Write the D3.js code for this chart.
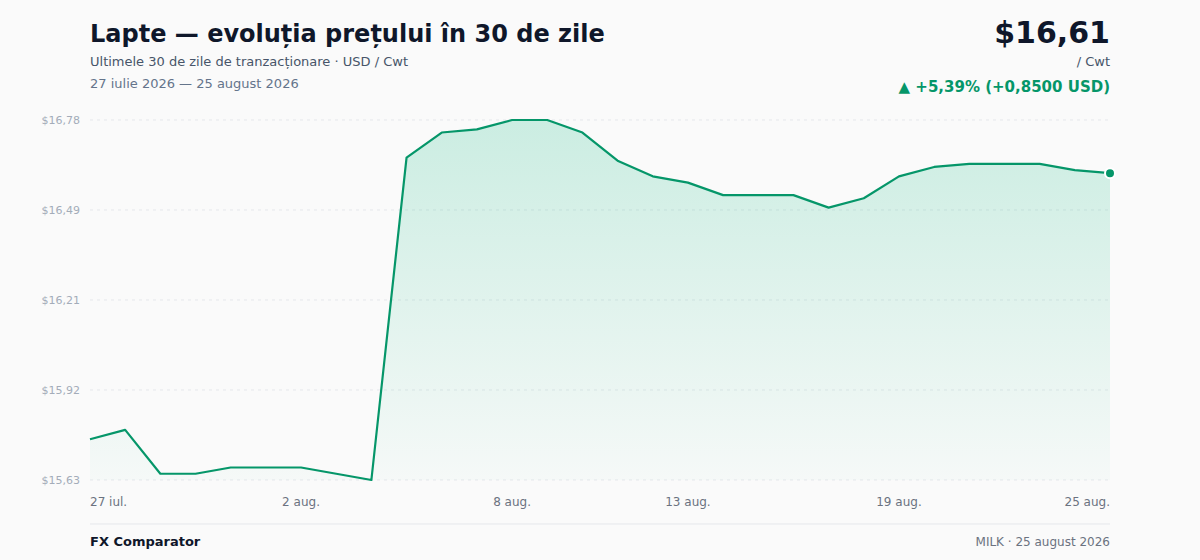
<!DOCTYPE html>
<html>
<head>
<meta charset="utf-8">
<script src="https://cdn.jsdelivr.net/npm/d3@7"></script>
<style>
  body { margin: 0; background: #fafafa; font-family: "DejaVu Sans", sans-serif; }
  svg { display: block; }
</style>
</head>
<body>
<div id="chart"></div>
<script>
// data
var dates = ["2026-07-27","2026-07-28","2026-07-29","2026-07-30","2026-07-31","2026-08-01","2026-08-02","2026-08-03","2026-08-04","2026-08-05",
             "2026-08-06","2026-08-07","2026-08-08","2026-08-09","2026-08-10","2026-08-11","2026-08-12","2026-08-13","2026-08-14","2026-08-15",
             "2026-08-16","2026-08-17","2026-08-18","2026-08-19","2026-08-20","2026-08-21","2026-08-22","2026-08-23","2026-08-24","2026-08-25"];
var prices = [15.76, 15.79, 15.65, 15.65, 15.67, 15.67, 15.67, 15.65, 15.63, 16.66,
              16.74, 16.75, 16.78, 16.78, 16.74, 16.65, 16.60, 16.58, 16.54, 16.54,
              16.54, 16.50, 16.53, 16.60, 16.63, 16.64, 16.64, 16.64, 16.62, 16.61];
var tickDates = ["2026-07-27","2026-08-02","2026-08-08","2026-08-13","2026-08-19","2026-08-25"];
var tickLabels = ["27 iul.","2 aug.","8 aug.","13 aug.","19 aug.","25 aug."];

var width = 1200, height = 560;
var plotLeft = 90, plotRight = 1110, plotTop = 120, plotBottom = 480;

var parse = d3.timeParse("%Y-%m-%d");
var data = dates.map(function(d, i) { return {date: parse(d), value: prices[i]}; });

var svg = d3.select("#chart").append("svg")
    .attr("width", width)
    .attr("height", height);

var x = d3.scaleTime()
    .domain(d3.extent(data, function(d) { return d.date; }))
    .range([plotLeft, plotRight]);
var yMin = d3.min(prices), yMax = d3.max(prices);
var y = d3.scaleLinear()
    .domain([yMin, yMax])
    .range([plotBottom, plotTop]);

var fmt = function(v) { return "$" + v.toFixed(2).replace(".", ","); };

//gradient for the area
var grad = svg.append("defs").append("linearGradient")
    .attr("id", "fillGrad")
    .attr("x1", 0).attr("y1", 0).attr("x2", 0).attr("y2", 1);
grad.append("stop").attr("offset", "0%").attr("stop-color", "#10b981").attr("stop-opacity", 0.2);
grad.append("stop").attr("offset", "100%").attr("stop-color", "#10b981").attr("stop-opacity", 0.02);

//grid + y labels
var yTicks = d3.range(5).map(function(i) { return yMin + i * (yMax - yMin) / 4; });
svg.append("g").selectAll("line")
  .data(yTicks)
  .enter().append("line")
    .attr("x1", plotLeft).attr("x2", plotRight)
    .attr("y1", function(d) { return y(d); })
    .attr("y2", function(d) { return y(d); })
    .attr("stroke", "#e5e7eb")
    .attr("stroke-dasharray", "3,4");
svg.append("g").selectAll("text")
  .data(yTicks)
  .enter().append("text")
    .attr("x", 80)
    .attr("y", function(d) { return y(d) + 4; })
    .attr("text-anchor", "end")
    .style("font-size", "11px")
    .style("fill", "#a3acb9")
    .text(fmt);

//area + line
svg.append("path")
  .datum(data)
  .attr("fill", "url(#fillGrad)")
  .attr("d", d3.area()
      .x(function(d) { return x(d.date); })
      .y0(plotBottom)
      .y1(function(d) { return y(d.value); }));
svg.append("path")
  .datum(data)
  .attr("fill", "none")
  .attr("stroke", "#059669")
  .attr("stroke-width", 2.2)
  .attr("stroke-linejoin", "round")
  .attr("d", d3.line()
      .x(function(d) { return x(d.date); })
      .y(function(d) { return y(d.value); }));

var last = data[data.length - 1];
svg.append("circle")
  .attr("cx", x(last.date))
  .attr("cy", y(last.value))
  .attr("r", 5)
  .attr("fill", "#059669")
  .attr("stroke", "#ffffff")
  .attr("stroke-width", 2);

//x labels
svg.append("g").selectAll("text")
  .data(tickDates)
  .enter().append("text")
    .attr("x", function(d) { return x(parse(d)); })
    .attr("y", 506)
    .attr("text-anchor", function(d, i) { return i == 0 ? "start" : (i == tickDates.length - 1 ? "end" : "middle"); })
    .style("font-size", "12px")
    .style("fill", "#6b7280")
    .text(function(d, i) { return tickLabels[i]; });

//header
svg.append("text")
  .attr("x", 90).attr("y", 42)
  .style("font-size", "24px")
  .style("font-weight", "bold")
  .style("fill", "#0f172a")
  .text("Lapte — evoluția prețului în 30 de zile");
svg.append("text")
  .attr("x", 90).attr("y", 66)
  .style("font-size", "13px")
  .style("fill", "#475569")
  .text("Ultimele 30 de zile de tranzacționare · USD / Cwt");
svg.append("text")
  .attr("x", 90).attr("y", 88)
  .style("font-size", "13px")
  .style("fill", "#64748b")
  .text("27 iulie 2026 — 25 august 2026");

var first = data[0];
var diff = last.value - first.value;
var pct = diff / first.value * 100;
svg.append("text")
  .attr("x", 1110).attr("y", 43)
  .attr("text-anchor", "end")
  .style("font-size", "30px")
  .style("font-weight", "bold")
  .style("fill", "#0f172a")
  .text(fmt(last.value));
svg.append("text")
  .attr("x", 1110).attr("y", 66)
  .attr("text-anchor", "end")
  .style("font-size", "13px")
  .style("fill", "#475569")
  .text("/ Cwt");
svg.append("text")
  .attr("x", 1110).attr("y", 92)
  .attr("text-anchor", "end")
  .style("font-size", "15px")
  .style("font-weight", "bold")
  .style("fill", "#059669")
  .text("▲ +" + pct.toFixed(2).replace(".", ",") + "% (+" + diff.toFixed(4).replace(".", ",") + " USD)");

//footer
svg.append("line")
  .attr("x1", 90).attr("x2", 1110)
  .attr("y1", 524).attr("y2", 524)
  .attr("stroke", "#e5e7eb");
svg.append("text")
  .attr("x", 90).attr("y", 546)
  .style("font-size", "13px")
  .style("font-weight", "bold")
  .style("fill", "#0f172a")
  .text("FX Comparator");
svg.append("text")
  .attr("x", 1110).attr("y", 546)
  .attr("text-anchor", "end")
  .style("font-size", "12px")
  .style("fill", "#6b7280")
  .text("MILK · 25 august 2026");
</script>
</body>
</html>
